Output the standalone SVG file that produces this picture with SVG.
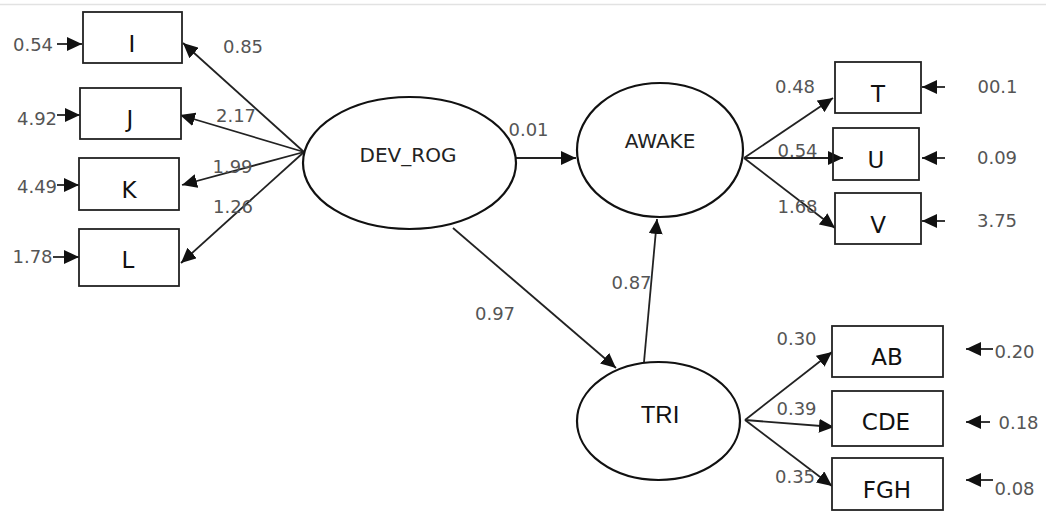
<svg xmlns="http://www.w3.org/2000/svg" width="1046" height="512" viewBox="0 0 1046 512">
<style>
.box{fill:#fff;stroke:#222;stroke-width:1.8}
.ell{fill:#fff;stroke:#111;stroke-width:2.2}
.lbl{font-family:"DejaVu Sans",Verdana,sans-serif;font-size:23px;fill:#111;text-anchor:middle}
.elbl{font-family:"DejaVu Sans",Verdana,sans-serif;font-size:20px;fill:#222;text-anchor:middle}
.num{font-family:"DejaVu Sans",Verdana,sans-serif;font-size:18px;fill:#555;text-anchor:middle}
.con line{stroke:#222;stroke-width:1.8;marker-end:url(#ah)}
</style>
<defs>
<marker id="ah" markerUnits="userSpaceOnUse" markerWidth="16" markerHeight="14" refX="15" refY="7" orient="auto">
<path d="M0,0 L15,7 L0,14 z" fill="#111"/>
</marker>
</defs>
<rect width="1046" height="512" fill="#fff"/>
<line x1="0" y1="4.5" x2="1046" y2="4.5" stroke="#e2e2e2" stroke-width="1.5"/>

<g id="connectors" class="con">
<line x1="304" y1="152" x2="183" y2="43"/>
<line x1="304" y1="152" x2="180" y2="115"/>
<line x1="304" y1="152" x2="182" y2="185"/>
<line x1="304" y1="152" x2="181" y2="263"/>
<line x1="57" y1="44" x2="82" y2="44"/>
<line x1="57" y1="115" x2="80" y2="115"/>
<line x1="57" y1="185" x2="79" y2="185"/>
<line x1="53" y1="257" x2="79" y2="257"/>
<line x1="516" y1="158" x2="576" y2="158"/>
<line x1="453" y1="228" x2="616" y2="368"/>
<line x1="644" y1="362" x2="657" y2="219"/>
<line x1="744" y1="158" x2="833" y2="98"/>
<line x1="744" y1="158" x2="843" y2="158"/>
<line x1="744" y1="158" x2="835" y2="228"/>
<line x1="945" y1="87" x2="922" y2="87"/>
<line x1="945" y1="158" x2="922" y2="158"/>
<line x1="945" y1="221" x2="922" y2="221"/>
<line x1="745" y1="420" x2="832" y2="352"/>
<line x1="745" y1="420" x2="834" y2="427"/>
<line x1="745" y1="420" x2="832" y2="486"/>
<line x1="993" y1="349" x2="966" y2="349"/>
<line x1="990" y1="422" x2="966" y2="422"/>
<line x1="993" y1="480" x2="966" y2="480"/>
</g>

<g id="labels">
<text class="num" x="33" y="51">0.54</text>
<text class="num" x="37" y="125">4.92</text>
<text class="num" x="37" y="193">4.49</text>
<text class="num" x="32.5" y="263">1.78</text>
<text class="num" x="243" y="53">0.85</text>
<text class="num" x="236" y="122">2.17</text>
<text class="num" x="232.5" y="173">1.99</text>
<text class="num" x="233" y="213">1.26</text>
<text class="num" x="528.5" y="136">0.01</text>
<text class="num" x="495" y="320">0.97</text>
<text class="num" x="631.5" y="289">0.87</text>
<text class="num" x="795" y="93">0.48</text>
<text class="num" x="797.5" y="157">0.54</text>
<text class="num" x="797.5" y="213">1.68</text>
<text class="num" x="997.5" y="93">00.1</text>
<text class="num" x="997" y="164">0.09</text>
<text class="num" x="997" y="227">3.75</text>
<text class="num" x="796.5" y="345">0.30</text>
<text class="num" x="796.5" y="415">0.39</text>
<text class="num" x="795" y="483">0.35</text>
<text class="num" x="1014.5" y="358">0.20</text>
<text class="num" x="1018.5" y="429">0.18</text>
<text class="num" x="1014.5" y="495">0.08</text>
</g>

<g id="node-I"><rect class="box" x="83" y="12" width="99" height="51"/><text class="lbl" x="132" y="52">I</text></g>
<g id="node-J"><rect class="box" x="80" y="88" width="101" height="51"/><text class="lbl" x="130" y="127">J</text></g>
<g id="node-K"><rect class="box" x="79" y="158" width="100" height="52"/><text class="lbl" x="129" y="198">K</text></g>
<g id="node-L"><rect class="box" x="79" y="229" width="100" height="57"/><text class="lbl" x="128" y="268">L</text></g>

<g id="node-DEV_ROG"><ellipse class="ell" cx="409.5" cy="163" rx="106.5" ry="66"/><text class="elbl" x="408" y="162">DEV_ROG</text></g>
<g id="node-AWAKE"><ellipse class="ell" cx="660" cy="150" rx="83" ry="67"/><text class="elbl" x="660" y="148">AWAKE</text></g>
<g id="node-TRI"><ellipse class="ell" cx="658.5" cy="421" rx="81.5" ry="59"/><text class="lbl" x="660" y="423" style="font-family:'Liberation Sans',Arial,sans-serif;font-size:24px">TRI</text></g>

<g id="node-T"><rect class="box" x="835" y="62" width="86" height="51"/><text class="lbl" x="878" y="102">T</text></g>
<g id="node-U"><rect class="box" x="833" y="128" width="86" height="52" style="fill:none"/><text class="lbl" x="876" y="168">U</text></g>
<g id="node-V"><rect class="box" x="835" y="193" width="86" height="51"/><text class="lbl" x="878" y="233">V</text></g>

<g id="node-AB"><rect class="box" x="832" y="326" width="111" height="51"/><text class="lbl" x="887" y="365">AB</text></g>
<g id="node-CDE"><rect class="box" x="832" y="391" width="111" height="55"/><text class="lbl" x="886" y="430">CDE</text></g>
<g id="node-FGH"><rect class="box" x="832" y="458" width="111" height="52"/><text class="lbl" x="887" y="498">FGH</text></g>
</svg>
